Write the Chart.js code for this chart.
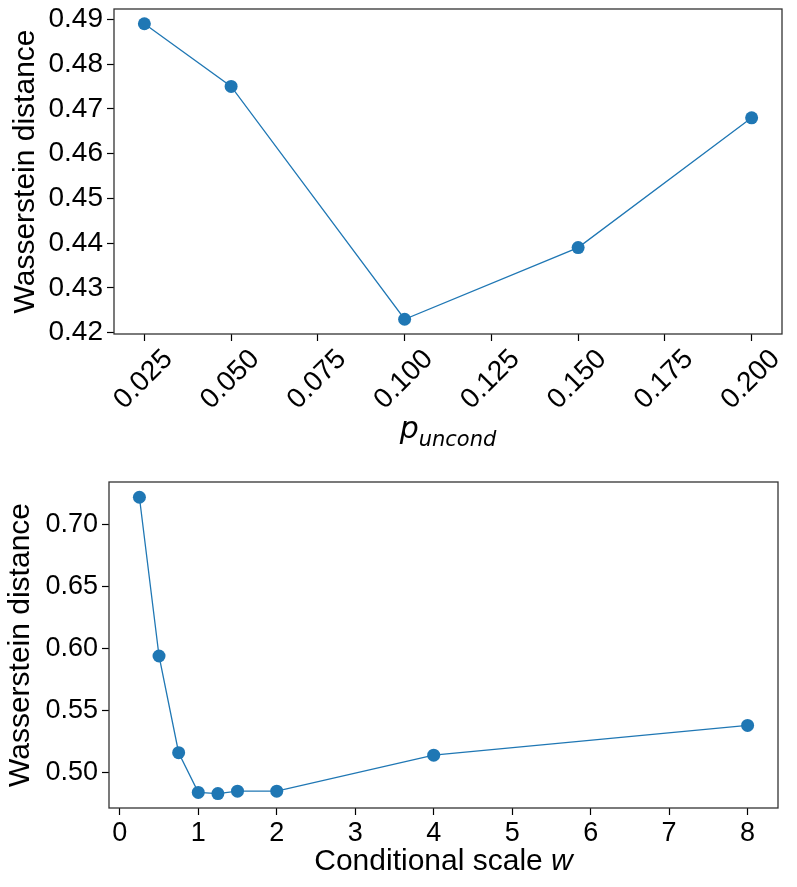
<!DOCTYPE html>
<html>
<head>
<meta charset="utf-8">
<script src="https://cdn.jsdelivr.net/npm/chart.js@4.4.1/dist/chart.umd.min.js"></script>
<style>
  html, body { margin: 0; padding: 0; background: #fff; }
  .wrap { position: absolute; left: 0; width: 797px; }
  #w1 { top: 0; height: 450px; }
  #w2 { top: 450px; height: 437px; }
</style>
</head>
<body>
<div class="wrap" id="w1"><canvas id="puncondChart" width="797" height="450"></canvas></div>
<div class="wrap" id="w2"><canvas id="scaleChart" width="797" height="437"></canvas></div>
<script>
// data
const pUncond = [0.025, 0.05, 0.1, 0.15, 0.2];
const wassersteinP = [0.489, 0.475, 0.423, 0.439, 0.468];
const pTicksX = [0.025, 0.05, 0.075, 0.1, 0.125, 0.15, 0.175, 0.2];
const pTicksY = [0.42, 0.43, 0.44, 0.45, 0.46, 0.47, 0.48, 0.49];

const condScale = [0.25, 0.5, 0.75, 1, 1.25, 1.5, 2, 4, 8];
const wassersteinW = [0.722, 0.594, 0.516, 0.484, 0.483, 0.485, 0.485, 0.514, 0.538];
const wTicksX = [0, 1, 2, 3, 4, 5, 6, 7, 8];
const wTicksY = [0.50, 0.55, 0.60, 0.65, 0.70];

const FONT = '"Liberation Sans", Arial, Helvetica, sans-serif';
const BLUE = '#1f77b4';

// frame around plot area + x title with mixed styles
const framePlugin = {
    id: 'frame',
    afterDraw(chart) {
        const { ctx, chartArea: a } = chart;
        ctx.save();
        ctx.strokeStyle = '#333';
        ctx.lineWidth = 1.3;
        ctx.strokeRect(a.left, a.top, a.right - a.left, a.bottom - a.top);
        const parts = chart.options.plugins.frame.title || [];
        let total = 0;
        parts.forEach(p => { ctx.font = p.font; total += ctx.measureText(p.text).width; });
        let x = (a.left + a.right) / 2 - total / 2;
        const base = a.bottom + chart.options.plugins.frame.offset;
        ctx.fillStyle = '#000';
        ctx.textBaseline = 'alphabetic';
        ctx.textAlign = 'left';
        parts.forEach(p => {
            ctx.font = p.font;
            ctx.fillText(p.text, x, base + (p.dy || 0));
            x += ctx.measureText(p.text).width;
        });
        ctx.restore();
    }
};

function makeChart(id, xs, ys, opts) {
    const el = document.getElementById(id);
    return new Chart(el.getContext('2d'), {
        type: 'line',
        data: {
            datasets: [{
                data: xs.map((x, i) => ({ x: x, y: ys[i] })),
                borderColor: BLUE,
                backgroundColor: BLUE,
                borderWidth: 1.3,
                pointRadius: 6.5,
                pointBorderWidth: 0,
                pointBackgroundColor: BLUE,
                tension: 0
            }]
        },
        options: {
            responsive: false,
            animation: false,
            layout: { padding: opts.padding },
            plugins: {
                legend: { display: false },
                tooltip: { enabled: false },
                frame: { title: opts.xTitle, offset: opts.titleOffset }
            },
            scales: {
                x: {
                    type: 'linear',
                    min: opts.xMin, max: opts.xMax,
                    afterBuildTicks: s => { s.ticks = opts.xTicks.map(v => ({ value: v })); },
                    afterFit: s => { s.height = opts.xHeight; s.paddingLeft = 0; s.paddingRight = 0; },
                    grid: { drawOnChartArea: false, tickLength: 7, tickColor: '#000', tickWidth: 1.2 },
                    border: { display: false },
                    ticks: {
                        color: '#000',
                        font: { family: FONT, size: opts.tickSize },
                        padding: opts.xPad,
                        minRotation: opts.rot, maxRotation: opts.rot,
                        labelOffset: opts.labelOffset || 0,
                        autoSkip: false,
                        callback: opts.xFmt
                    }
                },
                y: {
                    min: opts.yMin, max: opts.yMax,
                    afterBuildTicks: s => { s.ticks = opts.yTicks.map(v => ({ value: v })); },
                    afterFit: s => { s.width = opts.yWidth; s.paddingTop = 0; s.paddingBottom = 0; },
                    grid: { drawOnChartArea: false, tickLength: 7, tickColor: '#000', tickWidth: 1.2 },
                    border: { display: false },
                    title: {
                        display: true,
                        text: 'Wasserstein distance',
                        color: '#000',
                        font: { family: FONT, size: 30 },
                        padding: { top: opts.yTitlePad, bottom: 0 }
                    },
                    ticks: {
                        color: '#000',
                        font: { family: FONT, size: opts.tickSize },
                        padding: 4,
                        callback: v => v.toFixed(2)
                    }
                }
            }
        },
        plugins: [framePlugin]
    });
}

makeChart('puncondChart', pUncond, wassersteinP, {
    padding: { top: 9, right: 15, left: 0, bottom: 0 },
    xMin: 0.01625, xMax: 0.20875, yMin: 0.4197, yMax: 0.4923,
    xTicks: pTicksX, yTicks: pTicksY,
    xHeight: 116, yWidth: 114, tickSize: 28, xPad: 2, rot: 45, labelOffset: 24,
    yTitlePad: 8,
    xFmt: v => v.toFixed(3),
    titleOffset: 104,
    xTitle: [
        { text: 'p', font: 'italic 30px "DejaVu Sans", sans-serif' },
        { text: 'uncond', font: 'italic 21px "DejaVu Sans", sans-serif', dy: 8 }
    ]
});

makeChart('scaleChart', condScale, wassersteinW, {
    padding: { top: 32, right: 19, left: 0, bottom: 0 },
    xMin: -0.1375, xMax: 8.3875, yMin: 0.4714, yMax: 0.7343,
    xTicks: wTicksX, yTicks: wTicksY,
    xHeight: 79, yWidth: 109, tickSize: 27, xPad: 2, rot: 0,
    yTitlePad: 3,
    xFmt: v => String(v),
    titleOffset: 62,
    xTitle: [
        { text: 'Conditional scale ', font: '30px ' + FONT },
        { text: 'w', font: 'italic 30px ' + FONT }
    ]
});
</script>
</body>
</html>
